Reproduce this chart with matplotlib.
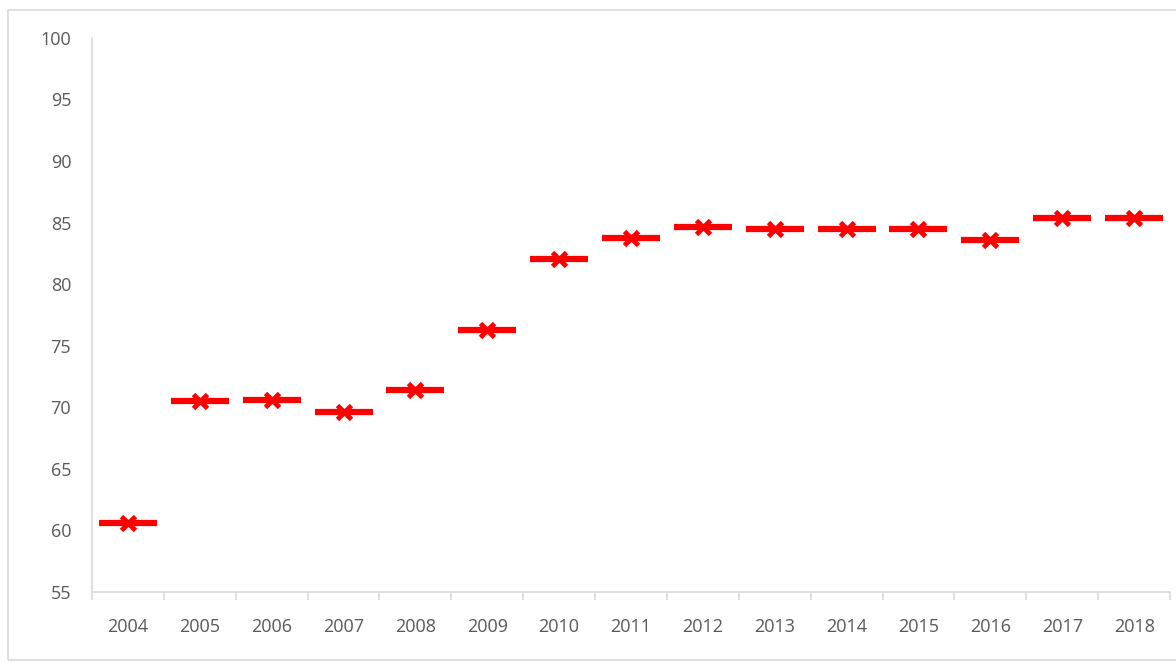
import matplotlib
matplotlib.use('Agg')
import matplotlib.pyplot as plt
import numpy as np
from matplotlib.patches import Rectangle

# データ
years = ['2004', '2005', '2006', '2007', '2008', '2009', '2010', '2011',
         '2012', '2013', '2014', '2015', '2016', '2017', '2018']
values = [60.6, 70.5, 70.6, 69.6, 71.4, 76.3, 82.0, 83.75,
          84.6, 84.5, 84.5, 84.5, 83.6, 85.4, 85.4]

plt.rcParams['font.family'] = ['Open Sans', 'DejaVu Sans']

fig = plt.figure(figsize=(11.76, 6.63), dpi=100)
# 外枠
fig.patches.append(Rectangle((8 / 1176, 3 / 663), 1.0, 650 / 663,
                             transform=fig.transFigure, fill=False,
                             edgecolor='#d9d9d9', lw=1.2))
ax = fig.add_axes([0.0782, 0.107, 0.9167, 0.836])

x = np.arange(len(years))
red = '#ff0000'
ax.plot(x, values, ls='none', marker='_', markersize=42, mew=4.5, color=red)
ax.plot(x, values, ls='none', marker='x', markersize=10.5, mew=3.5, color=red)

ax.set_xlim(-0.5, len(years) - 0.5)
ax.set_ylim(55, 100)
ax.set_yticks(range(55, 101, 5))
ax.set_xticks(x)
ax.set_xticklabels(years)
ax.set_xticks(np.arange(-0.5, len(years)), minor=True)

for s in ['top', 'right']:
    ax.spines[s].set_visible(False)
for s in ['left', 'bottom']:
    ax.spines[s].set_color('#d9d9d9')
    ax.spines[s].set_linewidth(1.2)

ax.tick_params(axis='y', length=0, pad=15, labelsize=13, labelcolor='#595959')
ax.tick_params(axis='x', which='major', length=0, pad=19, labelsize=13,
               labelcolor='#595959')
ax.tick_params(axis='x', which='minor', length=6, color='#d9d9d9', width=1.2)

fig.savefig('out.png', dpi=100)
